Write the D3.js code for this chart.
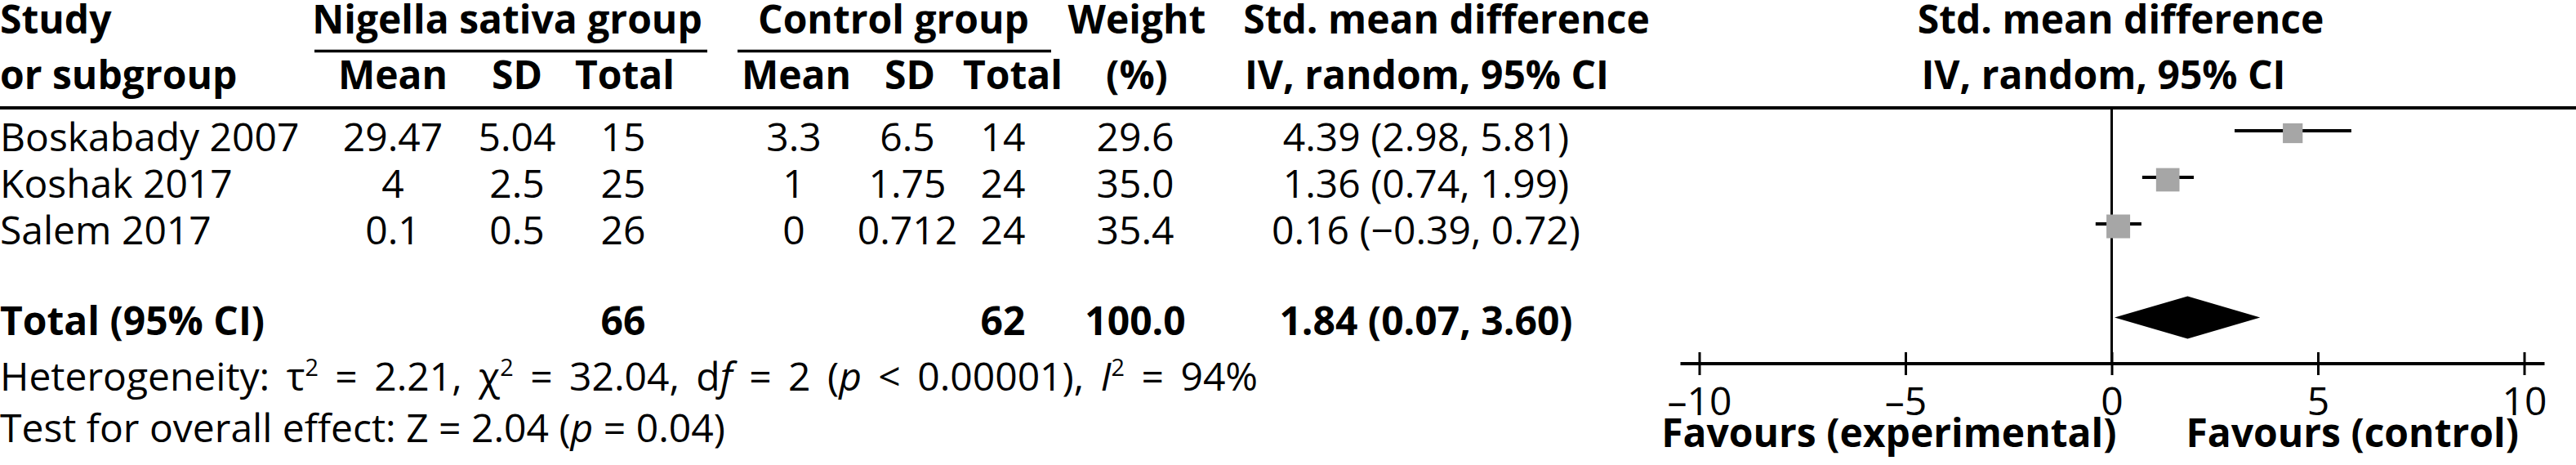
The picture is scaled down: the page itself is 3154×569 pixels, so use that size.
<!DOCTYPE html>
<html>
<head>
<meta charset="utf-8">
<script src="https://cdn.jsdelivr.net/npm/d3@7"></script>
<style>
  html, body { margin: 0; padding: 0; background: #fff; }
  svg { display: block; }
  text { font-family: "Open Sans", "Noto Sans", sans-serif; fill: #000; }
</style>
</head>
<body>
<svg id="chart" width="3154" height="569"></svg>
<script>
// ---- data ----
const studies   = ["Boskabady 2007", "Koshak 2017", "Salem 2017"];
const nsMean    = ["29.47", "4", "0.1"];
const nsSD      = ["5.04", "2.5", "0.5"];
const nsTotal   = [15, 25, 26];
const ctlMean   = ["3.3", "1", "0"];
const ctlSD     = ["6.5", "1.75", "0.712"];
const ctlTotal  = [14, 24, 24];
const weights   = [29.6, 35.0, 35.4];
const smd       = [4.39, 1.36, 0.16];
const ciLow     = [2.98, 0.74, -0.39];
const ciHigh    = [5.81, 1.99, 0.72];
const totalNS   = 66;
const totalCtl  = 62;
const totalWeight = 100.0;
const totalSMD  = [1.84, 0.07, 3.60];   // estimate, lower, upper
const axisTicks = [-10, -5, 0, 5, 10];

// ---- helpers ----
const svg = d3.select("#chart");
const FS = 48;
const fmt2 = d3.format(".2f");
const dash = s => String(s).replace("-", "\u2013");
const ciText = (e, l, h) => `${fmt2(e)} (${dash(fmt2(l))}, ${dash(fmt2(h))})`;

function txt(x, y, s, opt = {}) {
  return svg.append("text")
    .attr("x", x).attr("y", y)
    .attr("font-size", opt.size || FS)
    .attr("font-weight", opt.bold ? 700 : 400)
    .attr("text-anchor", opt.anchor || "start")
    .text(s);
}

// column centres
const col = {
  nsMean: 481, nsSD: 633, nsTotal: 763,
  cMean: 972, cSD: 1111, cTotal: 1228,
  weight: 1390, effect: 1746
};

// forest scale
const x = d3.scaleLinear().domain([-10, 10]).range([2080.5, 3090.5]);
const rowY = d3.scalePoint().domain(studies).range([160, 274]);
const boxSize = d3.scaleLinear().domain([0, d3.max(weights)]).range([0, 29]);

// ---- header ----
const h1 = 41, h2 = 109;
txt(0, h1, "Study", {bold: true});
txt(0, h2, "or subgroup", {bold: true});
txt(621, h1, "Nigella sativa group", {bold: true, anchor: "middle"});
txt(1094, h1, "Control group", {bold: true, anchor: "middle"});
[["Mean", 481], ["SD", 633], ["Total", 765],
 ["Mean", 975], ["SD", 1114], ["Total", 1240]]
  .forEach(([s, cx]) => txt(cx, h2, s, {bold: true, anchor: "middle"}));
txt(1392, h1, "Weight", {bold: true, anchor: "middle"});
txt(1392, h2, "(%)", {bold: true, anchor: "middle"});
txt(1771, h1, "Std. mean difference", {bold: true, anchor: "middle"});
txt(1747, h2, "IV, random, 95% CI", {bold: true, anchor: "middle"});
txt(x(0) + 11, h1, "Std. mean difference", {bold: true, anchor: "middle"});
txt(x(0) - 10, h2, "IV, random, 95% CI", {bold: true, anchor: "middle"});

// header rules
svg.append("line").attr("x1", 385).attr("x2", 866).attr("y1", 62.5).attr("y2", 62.5)
  .attr("stroke", "#000").attr("stroke-width", 3.5);
svg.append("line").attr("x1", 903).attr("x2", 1287).attr("y1", 62.5).attr("y2", 62.5)
  .attr("stroke", "#000").attr("stroke-width", 3.5);
svg.append("line").attr("x1", 0).attr("x2", 3154).attr("y1", 132).attr("y2", 132)
  .attr("stroke", "#000").attr("stroke-width", 4);

// ---- study rows ----
studies.forEach((s, i) => {
  const by = rowY(s) + 25;
  txt(0, by, s);
  txt(col.nsMean, by, nsMean[i], {anchor: "middle"});
  txt(col.nsSD, by, nsSD[i], {anchor: "middle"});
  txt(col.nsTotal, by, nsTotal[i], {anchor: "middle"});
  txt(col.cMean, by, ctlMean[i], {anchor: "middle"});
  txt(col.cSD, by, ctlSD[i], {anchor: "middle"});
  txt(col.cTotal, by, ctlTotal[i], {anchor: "middle"});
  txt(col.weight, by, d3.format(".1f")(weights[i]), {anchor: "middle"});
  txt(col.effect, by, ciText(smd[i], ciLow[i], ciHigh[i]), {anchor: "middle"});
});

// ---- total row ----
const totY = 410;
txt(0, totY, "Total (95% CI)", {bold: true});
txt(col.nsTotal, totY, totalNS, {bold: true, anchor: "middle"});
txt(col.cTotal, totY, totalCtl, {bold: true, anchor: "middle"});
txt(col.weight, totY, d3.format(".1f")(totalWeight), {bold: true, anchor: "middle"});
txt(col.effect, totY, ciText(...totalSMD), {bold: true, anchor: "middle"});

// heterogeneity / overall-effect lines
function richLine(y, parts, wordSpacing) {
  const t = svg.append("text").attr("x", 0).attr("y", y).attr("font-size", FS)
    .attr("word-spacing", wordSpacing || 0);
  parts.forEach(p => {
    const ts = t.append("tspan").text(p.t);
    if (p.i) ts.attr("font-style", "italic");
    if (p.sup) ts.attr("font-size", FS * 0.6).attr("dy", -18);
    if (p.after) ts.attr("dy", 18);
  });
}
richLine(478, [
  {t: "Heterogeneity: \u03C4"}, {t: "2", sup: true}, {t: " = 2.21, \u03C7", after: true},
  {t: "2", sup: true}, {t: " = 32.04, d", after: true}, {t: "f", i: true},
  {t: " = 2 ("}, {t: "p", i: true}, {t: " < 0.00001), "}, {t: "I", i: true},
  {t: "2", sup: true}, {t: " = 94%", after: true}
], 8);
richLine(541, [
  {t: "Test for overall effect: Z = 2.04 ("}, {t: "p", i: true}, {t: " = 0.04)"}
], 0);

// ---- forest plot ----
const axisY = 445;
// zero line
svg.append("line").attr("x1", x(0)).attr("x2", x(0)).attr("y1", 132).attr("y2", axisY)
  .attr("stroke", "#000").attr("stroke-width", 3);

// CIs
svg.selectAll("line.ci").data(studies).join("line").attr("class", "ci")
  .attr("x1", (d, i) => x(ciLow[i])).attr("x2", (d, i) => x(ciHigh[i]))
  .attr("y1", d => rowY(d)).attr("y2", d => rowY(d))
  .attr("stroke", "#000").attr("stroke-width", 4);
// boxes
svg.selectAll("rect.box").data(studies).join("rect").attr("class", "box")
  .attr("x", (d, i) => x(smd[i]) - boxSize(weights[i]) / 2)
  .attr("y", (d, i) => rowY(d) + 3 - boxSize(weights[i]) / 2)
  .attr("width", (d, i) => boxSize(weights[i]))
  .attr("height", (d, i) => boxSize(weights[i]))
  .attr("fill", "#a6a6a6");

// diamond
const dy0 = 388.5, dh = 26;
svg.append("path")
  .attr("d", `M${x(totalSMD[1])},${dy0} L${x(totalSMD[0])},${dy0 - dh} L${x(totalSMD[2])},${dy0} L${x(totalSMD[0])},${dy0 + dh} Z`)
  .attr("fill", "#000");

// axis
const axisG = svg.append("g").attr("transform", `translate(0,${axisY})`)
  .call(d3.axisBottom(x).tickValues(axisTicks).tickSizeOuter(0).tickFormat(d => dash(d)));
axisG.select(".domain").remove();
axisG.selectAll(".tick line").attr("y1", -14).attr("y2", 14)
  .attr("stroke", "#000").attr("stroke-width", 3);
axisG.selectAll(".tick text").attr("y", 63).attr("dy", 0)
  .attr("font-size", FS).attr("font-family", "'Open Sans', 'Noto Sans', sans-serif")
  .attr("fill", "#000");
axisG.append("line").attr("x1", x(-10) - 23).attr("x2", x(10) + 25).attr("y1", 0).attr("y2", 0)
  .attr("stroke", "#000").attr("stroke-width", 4);

txt(x(0) + 6, 547, "Favours (experimental)", {bold: true, anchor: "end"});
txt(x(1.8), 547, "Favours (control)", {bold: true, anchor: "start"});
</script>
</body>
</html>
